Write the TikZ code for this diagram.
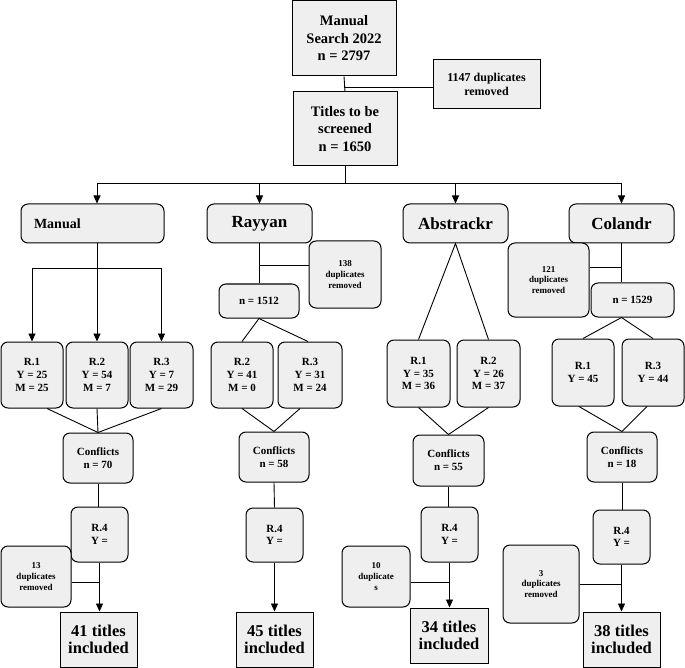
\documentclass[tikz,border=0pt]{standalone}
\usepackage{fontspec}
\setmainfont{Liberation Serif}
\usetikzlibrary{arrows.meta,positioning,calc}
\definecolor{boxgray}{HTML}{EFEFEF}
\newcommand\setfs[2]{\fontsize{#1}{#2}\selectfont\bfseries}

\begin{document}
\begin{tikzpicture}[x=1pt,y=-1pt,>={Triangle[length=8pt,width=7pt]},
  sbox/.style={draw,line width=1pt,fill=boxgray,align=center,inner sep=1pt},
  rbox/.style={sbox,rounded corners=7pt},
  big/.style={font=\setfs{14.5}{17.5}},
  tool/.style={font=\setfs{17}{20}},
  rev/.style={font=\setfs{11}{12.7}},
  dup/.style={font=\setfs{9}{10.7}},
  fin/.style={font=\setfs{16.5}{17}},
  ln/.style={line width=0.9pt}]
\useasboundingbox (0,0) rectangle (685,668);

% top part
\node[sbox,big,minimum width=104,minimum height=75] (search) at (344,38.5) {Manual\\Search 2022\\n = 2797};
\node[sbox,font=\setfs{12}{14},minimum width=107,minimum height=49] (dup0) at (486.5,84.5) {1147 duplicates\\removed};
\node[sbox,big,minimum width=104,minimum height=74] (ts) at (345,129) {Titles to be\\screened\\n = 1650};
\draw[ln] (search.south) -- (ts.north);
\draw[ln] ([yshift=-2.5pt]dup0.west) -- ([yshift=-2.5pt]dup0.west -| search.south);

% the four tools
\node[rbox,font=\setfs{14}{16},minimum height=39,text width=117,inner xsep=13pt,align=left] (man) at (92.5,223.5) {Manual};
\node[rbox,tool,minimum width=105,minimum height=39] (ray) at (259.5,223.5) {Rayyan};
\node[rbox,tool,minimum width=105,minimum height=39] (abs) at (455.5,223.5) {Abstrackr};
\node[rbox,tool,minimum width=105,minimum height=39] (col) at (621.5,223.5) {Colandr};

% Manual column
\node[rbox,rev,minimum width=62,minimum height=66] (mr1) at (32,375) {R.1\\Y = 25\\M = 25};
\node[rbox,rev,minimum width=62,minimum height=66] (mr2) at (97,375) {R.2\\Y = 54\\M = 7};
\node[rbox,rev,minimum width=63,minimum height=66] (mr3) at (161.5,375) {R.3\\Y = 7\\M = 29};
\node[rbox,rev,minimum width=70,minimum height=50] (mc) at (98,458) {Conflicts\\n = 70};
\node[rbox,rev,minimum width=57,minimum height=55] (mr4) at (99.5,534.5) {R.4\\Y =};
\node[rbox,dup,minimum width=70,minimum height=61] (md) at (36,576.5) {13\\duplicates\\removed};
\node[sbox,fin,minimum width=77,minimum height=55] (mt) at (98.5,639.5) {41 titles\\included};

% Rayyan column
\node[rbox,dup,minimum width=72,minimum height=67] (rd) at (345,274.5) {138\\duplicates\\removed};
\node[rbox,rev,minimum width=80,minimum height=34] (rn) at (259,301) {n = 1512};
\node[rbox,rev,minimum width=62,minimum height=66] (rr2) at (242,375) {R.2\\Y = 41\\M = 0};
\node[rbox,rev,minimum width=64,minimum height=66] (rr3) at (310,375) {R.3\\Y = 31\\M = 24};
\node[rbox,rev,minimum width=70,minimum height=50] (rc) at (274,457) {Conflicts\\n = 58};
\node[rbox,rev,minimum width=57,minimum height=54] (rr4) at (274.5,535) {R.4\\Y =};
\node[sbox,fin,minimum width=77,minimum height=55] (rt) at (274.5,639.5) {45 titles\\included};

% Abstrackr column
\node[rbox,rev,minimum width=63,minimum height=67] (ar1) at (418.5,373.5) {R.1\\Y = 35\\M = 36};
\node[rbox,rev,minimum width=63,minimum height=67] (ar2) at (488.5,373.5) {R.2\\Y = 26\\M = 37};
\node[rbox,rev,minimum width=71,minimum height=51] (ac) at (448.5,460.5) {Conflicts\\n = 55};
\node[rbox,rev,minimum width=57,minimum height=55] (ar4) at (449.5,534.5) {R.4\\Y =};
\node[rbox,dup,minimum width=68,minimum height=61] (ad) at (376,576.5) {10\\duplicate\\s};
\node[sbox,fin,minimum width=78,minimum height=55] (at) at (449,635.5) {34 titles\\included};

% Colandr column
\node[rbox,dup,minimum width=81,minimum height=74] (cd) at (548.5,280) {121\\duplicates\\removed};
\node[rbox,rev,minimum width=83,minimum height=34] (cn) at (632.5,300) {n = 1529};
\node[rbox,rev,minimum width=62,minimum height=67] (cr1) at (583,372.5) {R.1\\Y = 45};
\node[rbox,rev,minimum width=62,minimum height=67] (cr3) at (653,372.5) {R.3\\Y = 44};
\node[rbox,rev,minimum width=70,minimum height=50] (cc) at (622,457) {Conflicts\\n = 18};
\node[rbox,rev,minimum width=57,minimum height=54] (cr4) at (621.5,537) {R.4\\Y =};
\node[rbox,dup,minimum width=76,minimum height=78] (cdd) at (541,584) {3\\duplicates\\removed};
\node[sbox,fin,minimum width=77,minimum height=55] (ct) at (621.5,639.5) {38 titles\\included};

% bus to the tools
\coordinate (bus) at (0,183);
\draw[ln] (ts.south) -- (ts.south |- bus);
\draw[ln] (mr2.north |- bus) -- (col.north |- bus);
\draw[ln,->] (mr2.north |- bus) -- (mr2.north |- man.north);
\foreach \t in {ray,abs,col}
  \draw[ln,->] (\t.north |- bus) -- (\t.north);

% Manual links
\coordinate (mbus) at (0,268);
\draw[ln] (mr2.north |- man.south) -- (mr2.north |- mbus);
\draw[ln] (mr1.north |- mbus) -- (mr3.north |- mbus);
\foreach \r in {mr1,mr2,mr3}
  \draw[ln,->] (\r.north |- mbus) -- (\r.north);
\draw[ln] ([xshift=15pt]mr1.south) -- (mc.north) -- (mr3.south);
\draw[ln] (mr2.south) -- (mc.north);
\draw[ln] (mc.south) -- (mc.south |- mr4.north);
\draw[ln,->] (mr4.south) -- (mr4.south |- mt.north);
\draw[ln] ([yshift=-5.5pt]md.east) -- ([yshift=-5.5pt]md.east -| mr4.south);

% Rayyan links
\draw[ln] (ray.south) -- (ray.south |- rn.north);
\draw[ln] ([yshift=9.5pt]rd.west) -- ([yshift=9.5pt]rd.west -| ray.south);
\draw[ln] (rr2.north) -- (rn.south) -- ([xshift=-2pt]rr3.north);
\draw[ln] (rr2.south) -- (rc.north) -- ([xshift=-10pt]rr3.south);
\draw[ln] (rc.south) -- (rr4.north);
\draw[ln,->] (rr4.south) -- (rt.north);

% Abstrackr links
\draw[ln] (ar1.north) -- (abs.south) -- (ar2.north);
\draw[ln] (ar1.south) -- (ac.north) -- (ar2.south);
\draw[ln] (ac.south) -- (ac.south |- ar4.north);
\draw[ln,->] (ar4.south) -- (ar4.south |- at.north);
\draw[ln] ([yshift=-5.5pt]ad.east) -- ([yshift=-5.5pt]ad.east -| ar4.south);

% Colandr links
\draw[ln] (col.south) -- (col.south |- cn.north);
\draw[ln] ([yshift=13pt]cd.east) -- ([yshift=13pt]cd.east -| col.south);
\draw[ln] (cr1.north) -- (cn.south -| col.south) -- (cr3.north);
\draw[ln] ([xshift=-4pt]cr1.south) -- (cc.north) -- ([xshift=-6pt]cr3.south);
\draw[ln] (cc.south) -- (cc.south |- cr4.north);
\draw[ln,->] (cr4.south) -- (cr4.south |- ct.north);
\draw[ln] (cdd.east) -- (cdd.east -| cr4.south);
\end{tikzpicture}
\end{document}
